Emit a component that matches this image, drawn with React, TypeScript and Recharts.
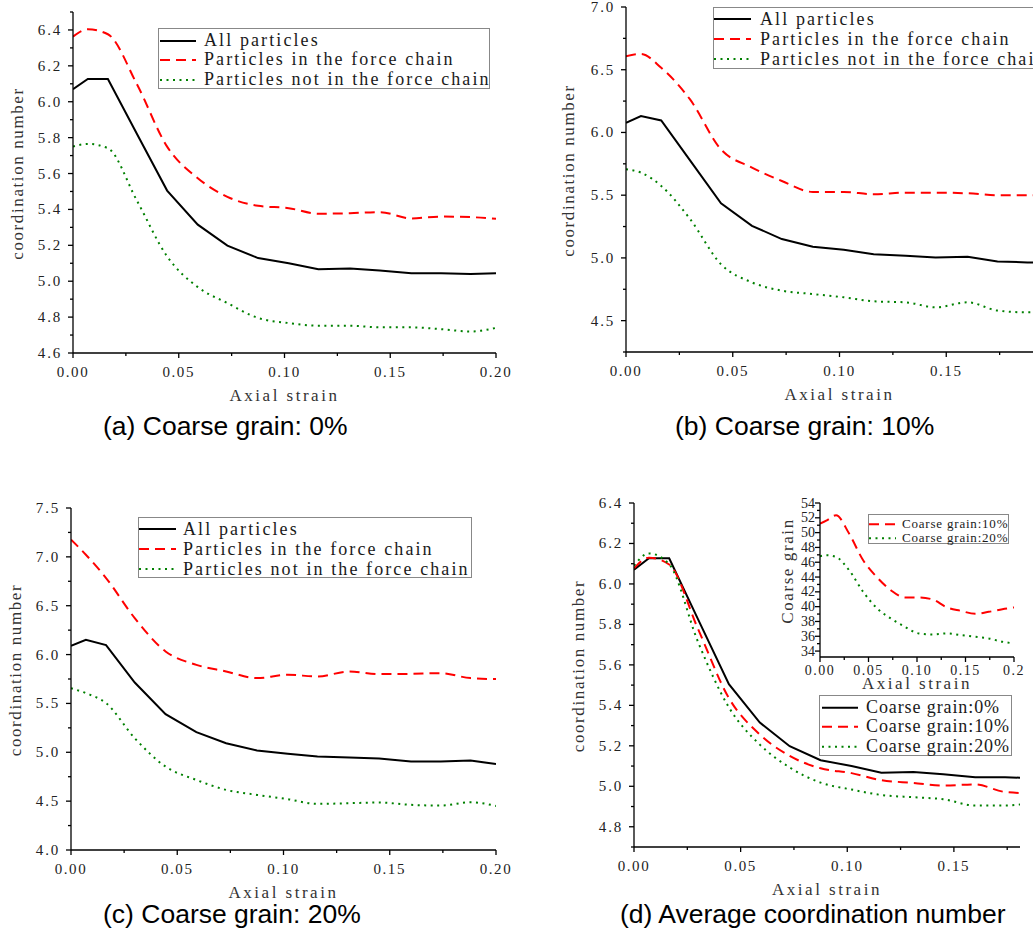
import React from "react";
import { LineChart, Line, XAxis, YAxis, Legend, Label } from "recharts";

// axial strain steps shared by every curve
const strain = [0, 0.007, 0.0165, 0.03, 0.0445, 0.059, 0.073, 0.0875, 0.102, 0.116, 0.131, 0.145, 0.16, 0.174, 0.188, 0.2];

// (a) coarse grain 0%
const allA = [6.07, 6.127, 6.127, 5.826, 5.505, 5.315, 5.198, 5.129, 5.1, 5.067, 5.071, 5.06, 5.045, 5.045, 5.04, 5.045];
const inA = [6.363, 6.404, 6.376, 6.103, 5.75, 5.574, 5.47, 5.42, 5.407, 5.376, 5.379, 5.385, 5.35, 5.36, 5.357, 5.348];
const notA = [5.75, 5.765, 5.741, 5.454, 5.138, 4.967, 4.878, 4.795, 4.767, 4.752, 4.752, 4.743, 4.743, 4.733, 4.72, 4.74];

// (b) coarse grain 10%
const allB = [6.077, 6.13, 6.096, 5.778, 5.436, 5.256, 5.15, 5.089, 5.065, 5.03, 5.017, 5.004, 5.009, 4.972, 4.964, 4.96];
const inB = [6.608, 6.626, 6.515, 6.263, 5.865, 5.72, 5.613, 5.526, 5.526, 5.507, 5.52, 5.52, 5.515, 5.5, 5.5, 5.5];
const notB = [5.706, 5.68, 5.574, 5.31, 4.95, 4.805, 4.739, 4.712, 4.686, 4.654, 4.646, 4.606, 4.646, 4.58, 4.566, 4.566];

// (c) coarse grain 20%
const allC = [6.09, 6.151, 6.097, 5.714, 5.39, 5.206, 5.093, 5.018, 4.984, 4.957, 4.946, 4.936, 4.905, 4.905, 4.915, 4.88];
const inC = [7.176, 7.022, 6.783, 6.373, 6.032, 5.895, 5.827, 5.759, 5.793, 5.776, 5.827, 5.8, 5.803, 5.81, 5.759, 5.749];
const notC = [5.656, 5.605, 5.503, 5.144, 4.854, 4.717, 4.615, 4.564, 4.52, 4.472, 4.479, 4.486, 4.462, 4.455, 4.489, 4.451];

// (d) inset: coarse grain coordination number
const coarse10 = [51.2, 51.66, 52.34, 49.87, 46.27, 43.93, 42.22, 41.24, 41.24, 40.97, 39.89, 39.44, 39.03, 39.3, 39.66, 39.89];
const coarse20 = [46.81, 46.94, 46.72, 44.92, 42.0, 39.75, 38.4, 37.28, 36.38, 36.25, 36.38, 36.16, 35.93, 35.7, 35.26, 35.03];

// tick values
const xMajor = [0, 0.05, 0.1, 0.15, 0.2];
const xMinor = [0.025, 0.075, 0.125, 0.175];
const xLabels = ["0.00", "0.05", "0.10", "0.15", "0.20"];
const xMajorD = [0, 0.05, 0.1, 0.15];
const xMinorD = [0.025, 0.075, 0.125, 0.175];
const xLabelsInset = ["0.00", "0.05", "0.10", "0.15", "0.2"];

const yMajorA = [4.6, 4.8, 5.0, 5.2, 5.4, 5.6, 5.8, 6.0, 6.2, 6.4];
const yMinorA = [4.7, 4.9, 5.1, 5.3, 5.5, 5.7, 5.9, 6.1, 6.3, 6.5];
const yMajorB = [4.5, 5.0, 5.5, 6.0, 6.5, 7.0];
const yMinorB = [4.25, 4.75, 5.25, 5.75, 6.25, 6.75];
const yMajorC = [4.0, 4.5, 5.0, 5.5, 6.0, 6.5, 7.0, 7.5];
const yMinorC = [4.25, 4.75, 5.25, 5.75, 6.25, 6.75, 7.25];
const yMajorD = [4.8, 5.0, 5.2, 5.4, 5.6, 5.8, 6.0, 6.2, 6.4];
const yMinorD = [4.7, 4.9, 5.1, 5.3, 5.5, 5.7, 5.9, 6.1, 6.3];
const yMajorIn = [34, 36, 38, 40, 42, 44, 46, 48, 50, 52, 54];
const yMinorIn = [35, 37, 39, 41, 43, 45, 47, 49, 51, 53];

const particleNames = ["All particles", "Particles in the force chain", "Particles not in the force chain"];
const grainNames = ["Coarse grain:0%", "Coarse grain:10%", "Coarse grain:20%"];

const SERIF = '"Liberation Serif", "Times New Roman", serif';
const SANS = '"Liberation Sans", Arial, sans-serif';

const styles = [
  { color: "#000000", dash: undefined as string | undefined, curve: "linear" as const },
  { color: "#ff0000", dash: "10 6", curve: "monotone" as const },
  { color: "#008000", dash: "2 4.5", curve: "monotone" as const },
];

type SeriesDef = { name: string; values: number[]; style: number };

function makeTick(axis: "x" | "y", majors: number[], labels: string[], fontSize: number, spacing: number, gap: number) {
  return (props: any) => {
    const { x, y, payload } = props;
    const idx = majors.findIndex((m) => Math.abs(m - payload.value) < 1e-9);
    const len = idx >= 0 ? 5 : 3;
    const txt =
      idx >= 0 ? (
        <text
          x={axis === "y" ? x - gap : x}
          y={axis === "y" ? y : y + gap}
          textAnchor={axis === "y" ? "end" : "middle"}
          dominantBaseline="central"
          fontFamily={SERIF}
          fontSize={fontSize}
          letterSpacing={spacing}
          fill="#222"
        >
          {labels[idx]}
        </text>
      ) : null;
    return axis === "y" ? (
      <g>
        <line x1={x} x2={x - len} y1={y} y2={y} stroke="#000" strokeWidth={1.3} />
        {txt}
      </g>
    ) : (
      <g>
        <line x1={x} x2={x} y1={y} y2={y + len} stroke="#000" strokeWidth={1.3} />
        {txt}
      </g>
    );
  };
}

function LegendBox(props: {
  names: string[];
  styleIdx: number[];
  width: number;
  height: number;
  rowH: number;
  padTop: number;
  sampleL: number;
  sampleW: number;
  textL: number;
  fontSize: number;
  spacing: number;
}) {
  return (
    <div
      style={{
        boxSizing: "border-box",
        width: props.width,
        height: props.height,
        border: "1px solid #888",
        background: "#fff",
        paddingTop: props.padTop,
      }}
    >
      {props.names.map((n, i) => {
        const st = styles[props.styleIdx[i]];
        return (
          <div key={n} style={{ height: props.rowH, position: "relative", whiteSpace: "nowrap" }}>
            <svg
              width={props.sampleW}
              height={props.rowH}
              style={{ position: "absolute", left: props.sampleL - 1, top: 0 }}
            >
              <line
                x1={0}
                x2={props.sampleW}
                y1={props.rowH / 2}
                y2={props.rowH / 2}
                stroke={st.color}
                strokeWidth={2}
                strokeDasharray={st.dash}
              />
            </svg>
            <span
              style={{
                position: "absolute",
                left: props.textL - 1,
                top: 0,
                lineHeight: props.rowH + "px",
                fontFamily: SERIF,
                fontSize: props.fontSize,
                letterSpacing: props.spacing,
                color: "#1a1a1a",
              }}
            >
              {n}
            </span>
          </div>
        );
      })}
    </div>
  );
}

type PanelProps = {
  left: number;
  top: number;
  width: number;
  height: number;
  mt: number;
  mr: number;
  yw: number;
  xh: number;
  xDomain: [number, number];
  xMajor: number[];
  xMinor: number[];
  xLabels: string[];
  yDomain: [number, number];
  yMajor: number[];
  yMinor: number[];
  yLabels: string[];
  series: SeriesDef[];
  yTitle: string;
  yTitleX: number;
  xTitleOffset: number;
  titleSize: number;
  tickSize: number;
  xTickSpacing: number;
  yTickSpacing: number;
  xTickGap: number;
  yTickGap: number;
  legend: any;
};

function Panel(p: PanelProps) {
  const data = strain.map((s, i) => {
    const row: any = { s };
    p.series.forEach((se, k) => (row["v" + k] = se.values[i]));
    return row;
  });
  const xTicks = [...p.xMajor, ...p.xMinor].sort((a, b) => a - b);
  const yTicks = [...p.yMajor, ...p.yMinor].sort((a, b) => a - b);
  const lg = p.legend;
  return (
    <div style={{ position: "absolute", left: p.left, top: p.top }}>
      <LineChart width={p.width} height={p.height} data={data} margin={{ top: p.mt, right: p.mr, bottom: 0, left: 0 }}>
        <XAxis
          dataKey="s"
          type="number"
          domain={p.xDomain}
          allowDataOverflow
          ticks={xTicks}
          interval={0}
          height={p.xh}
          tickLine={false}
          tickSize={0}
          tickMargin={0}
          axisLine={{ stroke: "#000", strokeWidth: 1.3 }}
          tick={makeTick("x", p.xMajor, p.xLabels, p.tickSize, p.xTickSpacing, p.xTickGap)}
        >
          <Label
            content={(lp: any) => {
              const vb = lp.viewBox || {};
              const cx = (vb.x ?? 0) + (vb.width ?? 0) / 2;
              const cy = (vb.y ?? 0) + p.xTitleOffset;
              return (
                <text
                  x={cx}
                  y={cy}
                  textAnchor="middle"
                  dominantBaseline="central"
                  fontFamily={SERIF}
                  fontSize={p.titleSize}
                  letterSpacing={2.5}
                  fill="#333"
                >
                  Axial strain
                </text>
              );
            }}
          />
        </XAxis>
        <YAxis
          type="number"
          domain={p.yDomain}
          allowDataOverflow
          ticks={yTicks}
          interval={0}
          width={p.yw}
          tickLine={false}
          tickSize={0}
          tickMargin={0}
          axisLine={{ stroke: "#000", strokeWidth: 1.3 }}
          tick={makeTick("y", p.yMajor, p.yLabels, p.tickSize, p.yTickSpacing, p.yTickGap)}
        >
          <Label
            content={(lp: any) => {
              const vb = lp.viewBox || {};
              const cy = (vb.y ?? 0) + (vb.height ?? 0) / 2 - 9;
              const cx = p.yTitleX;
              return (
                <text
                  x={cx}
                  y={cy}
                  transform={`rotate(-90 ${cx} ${cy})`}
                  textAnchor="middle"
                  dominantBaseline="central"
                  fontFamily={SERIF}
                  fontSize={p.titleSize}
                  letterSpacing={1.6}
                  fill="#333"
                >
                  {p.yTitle}
                </text>
              );
            }}
          />
        </YAxis>
        {p.series.map((se, k) => {
          const st = styles[se.style];
          return (
            <Line
              key={se.name}
              name={se.name}
              dataKey={"v" + k}
              type={st.curve}
              stroke={st.color}
              strokeWidth={2}
              strokeDasharray={st.dash}
              dot={false}
              activeDot={false}
              isAnimationActive={false}
            />
          );
        })}
        <Legend
          verticalAlign="middle"
          wrapperStyle={{ left: lg.left, top: lg.top, width: lg.width, height: lg.height }}
          content={() => (
            <LegendBox
              names={p.series.map((s) => s.name)}
              styleIdx={p.series.map((s) => s.style)}
              width={lg.width}
              height={lg.height}
              rowH={lg.rowH}
              padTop={lg.padTop}
              sampleL={lg.sampleL}
              sampleW={lg.sampleW}
              textL={lg.textL}
              fontSize={lg.fontSize}
              spacing={lg.spacing}
            />
          )}
        />
      </LineChart>
    </div>
  );
}

function Caption({ left, top, text }: { left: number; top: number; text: string }) {
  return (
    <div
      style={{
        position: "absolute",
        left,
        top,
        fontFamily: SANS,
        fontSize: 26.5,
        lineHeight: "26px",
        whiteSpace: "nowrap",
        color: "#000",
      }}
    >
      {text}
    </div>
  );
}

const mainCommon = {
  mr: 16,
  xh: 57,
  xDomain: [0, 0.2] as [number, number],
  xMajor,
  xMinor,
  xLabels,
  yTitle: "coordination number",
  xTitleOffset: 42,
  titleSize: 17,
  tickSize: 15,
  xTickSpacing: 1.6,
  yTickSpacing: 1.8,
  xTickGap: 19,
  yTickGap: 11,
};

const particleLegend = { rowH: 19.8, padTop: 1.5, sampleL: 2, sampleW: 36, textL: 46, fontSize: 18, spacing: 2.1 };

export default function App() {
  const fmt1 = (arr: number[]) => arr.map((v) => v.toFixed(1));
  return (
    <div
      style={{
        position: "absolute",
        left: 0,
        top: 0,
        width: 1033,
        height: 932,
        overflow: "hidden",
        background: "#fff",
      }}
    >
      <Panel
        {...mainCommon}
        left={0}
        top={0}
        width={512}
        height={410}
        mt={12}
        yw={73}
        yDomain={[4.6, 6.5]}
        yMajor={yMajorA}
        yMinor={yMinorA}
        yLabels={fmt1(yMajorA)}
        yTitleX={17}
        series={[
          { name: particleNames[0], values: allA, style: 0 },
          { name: particleNames[1], values: inA, style: 1 },
          { name: particleNames[2], values: notA, style: 2 },
        ]}
        legend={{ ...particleLegend, left: 158, top: 28, width: 332, height: 61 }}
      />
      <Panel
        {...mainCommon}
        left={515}
        top={0}
        width={554}
        height={409}
        mt={7}
        yw={111}
        yDomain={[4.25, 7.0]}
        yMajor={yMajorB}
        yMinor={yMinorB}
        yLabels={fmt1(yMajorB)}
        yTitleX={53}
        series={[
          { name: particleNames[0], values: allB, style: 0 },
          { name: particleNames[1], values: inB, style: 1 },
          { name: particleNames[2], values: notB, style: 2 },
        ]}
        legend={{ ...particleLegend, padTop: 1.3, rowH: 20, sampleL: 1, sampleW: 37, textL: 47, left: 198, top: 7, width: 336, height: 62 }}
      />
      <Panel
        {...mainCommon}
        left={0}
        top={490}
        width={512}
        height={417}
        mt={18}
        yw={71}
        yDomain={[4.0, 7.5]}
        yMajor={yMajorC}
        yMinor={yMinorC}
        yLabels={fmt1(yMajorC)}
        yTitleX={15}
        series={[
          { name: particleNames[0], values: allC, style: 0 },
          { name: particleNames[1], values: inC, style: 1 },
          { name: particleNames[2], values: notC, style: 2 },
        ]}
        legend={{ ...particleLegend, padTop: 1.3, rowH: 20, sampleL: 1, sampleW: 37, textL: 45, left: 138, top: 27, width: 334, height: 61 }}
      />
      <Panel
        {...mainCommon}
        left={560}
        top={490}
        width={476}
        height={414}
        mt={13}
        yw={74}
        xDomain={[0, 0.181]}
        xMajor={xMajorD}
        xMinor={xMinorD}
        xLabels={xLabels}
        yDomain={[4.7, 6.4]}
        yMajor={yMajorD}
        yMinor={yMinorD}
        yLabels={fmt1(yMajorD)}
        yTitleX={18}
        series={[
          { name: grainNames[0], values: allA, style: 0 },
          { name: grainNames[1], values: allB, style: 1 },
          { name: grainNames[2], values: allC, style: 2 },
        ]}
        legend={{ ...particleLegend, rowH: 19.7, padTop: 1.8, sampleL: 2.7, sampleW: 36, textL: 47, spacing: 0.9, left: 259, top: 205, width: 193, height: 61 }}
      />
      <Panel
        left={770}
        top={490}
        width={260}
        height={207}
        mt={13}
        mr={16}
        yw={50}
        xh={40}
        xDomain={[0, 0.2]}
        xMajor={xMajor}
        xMinor={xMinor}
        xLabels={xLabelsInset}
        yDomain={[33.2, 54]}
        yMajor={yMajorIn}
        yMinor={yMinorIn}
        yLabels={yMajorIn.map((v) => String(v))}
        yTitle="Coarse grain"
        yTitleX={17}
        xTitleOffset={26}
        titleSize={17}
        tickSize={14}
        xTickSpacing={1.5}
        yTickSpacing={0}
        xTickGap={13}
        yTickGap={5}
        series={[
          { name: grainNames[1], values: coarse10, style: 1 },
          { name: grainNames[2], values: coarse20, style: 2 },
        ]}
        legend={{ rowH: 14.4, padTop: 2, sampleL: 1, sampleW: 27, textL: 34, fontSize: 13, spacing: 0.8, left: 98, top: 24, width: 141, height: 30 }}
      />
      <Caption left={103} top={413} text="(a) Coarse grain: 0%" />
      <Caption left={675} top={413} text="(b) Coarse grain: 10%" />
      <Caption left={103} top={901} text="(c) Coarse grain: 20%" />
      <Caption left={620} top={901} text="(d) Average coordination number" />
    </div>
  );
}
